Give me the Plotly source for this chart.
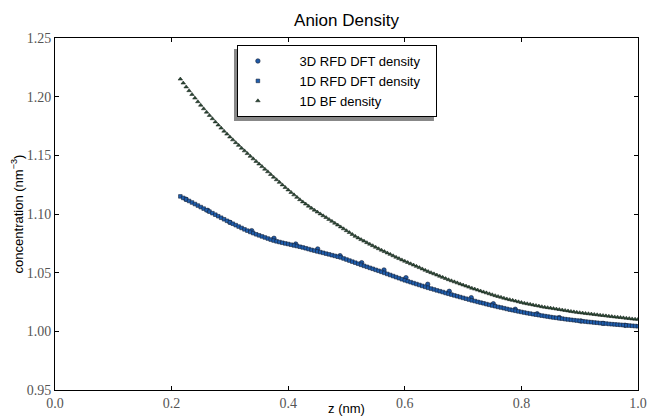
import numpy as np
import plotly.graph_objects as go

# ---- data ----
z_grid = np.round(np.linspace(0.215, 1.0, 158), 3)

rfd1d = [
    1.1150, 1.1137, 1.1124, 1.1111, 1.1098, 1.1085, 1.1072, 1.1059, 1.1046, 1.1033,
    1.1020, 1.1007, 1.0994, 1.0981, 1.0968, 1.0955, 1.0942, 1.0929, 1.0917, 1.0905,
    1.0893, 1.0881, 1.0869, 1.0858, 1.0847, 1.0837, 1.0827, 1.0818, 1.0809, 1.0800,
    1.0791, 1.0782, 1.0774, 1.0767, 1.0761, 1.0755, 1.0749, 1.0744, 1.0738, 1.0732,
    1.0727, 1.0721, 1.0715, 1.0708, 1.0701, 1.0694, 1.0688, 1.0681, 1.0675, 1.0669,
    1.0662, 1.0656, 1.0649, 1.0643, 1.0636, 1.0630, 1.0621, 1.0612, 1.0603, 1.0594,
    1.0585, 1.0576, 1.0567, 1.0558, 1.0550, 1.0541, 1.0533, 1.0524, 1.0516, 1.0507,
    1.0498, 1.0489, 1.0480, 1.0471, 1.0462, 1.0453, 1.0444, 1.0435, 1.0427, 1.0419,
    1.0411, 1.0403, 1.0395, 1.0387, 1.0379, 1.0371, 1.0364, 1.0357, 1.0349, 1.0342,
    1.0335, 1.0327, 1.0320, 1.0313, 1.0306, 1.0299, 1.0292, 1.0285, 1.0278, 1.0271,
    1.0264, 1.0258, 1.0251, 1.0245, 1.0239, 1.0232, 1.0226, 1.0220, 1.0214, 1.0208,
    1.0203, 1.0197, 1.0191, 1.0185, 1.0180, 1.0175, 1.0170, 1.0165, 1.0160, 1.0155,
    1.0151, 1.0146, 1.0142, 1.0138, 1.0134, 1.0130, 1.0126, 1.0122, 1.0118, 1.0115,
    1.0111, 1.0108, 1.0104, 1.0101, 1.0098, 1.0095, 1.0092, 1.0089, 1.0086, 1.0083,
    1.0080, 1.0078, 1.0075, 1.0073, 1.0070, 1.0068, 1.0066, 1.0063, 1.0061, 1.0059,
    1.0057, 1.0055, 1.0053, 1.0051, 1.0049, 1.0047, 1.0045, 1.0043,
]

bf1d = [
    1.2150, 1.2116, 1.2083, 1.2051, 1.2019, 1.1988, 1.1957, 1.1927, 1.1897, 1.1868,
    1.1840, 1.1812, 1.1785, 1.1758, 1.1732, 1.1706, 1.1681, 1.1656, 1.1632, 1.1608,
    1.1585, 1.1561, 1.1538, 1.1515, 1.1492, 1.1470, 1.1448, 1.1426, 1.1404, 1.1382,
    1.1360, 1.1337, 1.1314, 1.1292, 1.1270, 1.1248, 1.1226, 1.1205, 1.1184, 1.1163,
    1.1142, 1.1122, 1.1103, 1.1085, 1.1067, 1.1050, 1.1033, 1.1017, 1.1001, 1.0985,
    1.0970, 1.0954, 1.0938, 1.0922, 1.0906, 1.0890, 1.0874, 1.0858, 1.0842, 1.0826,
    1.0810, 1.0796, 1.0782, 1.0769, 1.0756, 1.0743, 1.0730, 1.0717, 1.0704, 1.0692,
    1.0680, 1.0668, 1.0656, 1.0644, 1.0632, 1.0620, 1.0609, 1.0598, 1.0587, 1.0576,
    1.0565, 1.0554, 1.0543, 1.0532, 1.0521, 1.0510, 1.0500, 1.0490, 1.0480, 1.0470,
    1.0460, 1.0450, 1.0440, 1.0431, 1.0422, 1.0413, 1.0404, 1.0395, 1.0386, 1.0377,
    1.0368, 1.0360, 1.0352, 1.0344, 1.0336, 1.0328, 1.0320, 1.0312, 1.0304, 1.0297,
    1.0290, 1.0283, 1.0276, 1.0270, 1.0264, 1.0258, 1.0252, 1.0246, 1.0240, 1.0235,
    1.0230, 1.0225, 1.0220, 1.0215, 1.0210, 1.0206, 1.0202, 1.0198, 1.0194, 1.0190,
    1.0186, 1.0182, 1.0178, 1.0174, 1.0170, 1.0166, 1.0162, 1.0159, 1.0156, 1.0153,
    1.0150, 1.0147, 1.0144, 1.0141, 1.0138, 1.0135, 1.0132, 1.0129, 1.0126, 1.0123,
    1.0121, 1.0118, 1.0115, 1.0112, 1.0109, 1.0106, 1.0104, 1.0102,
]

z3d = [0.2246, 0.2623, 0.3000, 0.3374, 0.3756, 0.4129, 0.4506, 0.4889, 0.5260,
       0.5643, 0.6020, 0.6393, 0.6763, 0.7140, 0.7518, 0.7895, 0.8270, 0.8650,
       0.9020, 0.9400, 0.9780]
rfd3d = [1.1126, 1.1030, 1.0929, 1.0858, 1.0793, 1.0744, 1.0702, 1.0645, 1.0585,
         1.0523, 1.0457, 1.0401, 1.0341, 1.0287, 1.0235, 1.0188, 1.0150, 1.0117,
         1.0088, 1.0068, 1.0051]

series_names = ["3D RFD DFT density", "1D RFD DFT density", "1D BF density"]
x_ticks = [0.0, 0.2, 0.4, 0.6, 0.8, 1.0]
y_ticks = [0.95, 1.00, 1.05, 1.10, 1.15, 1.20, 1.25]

lead = "\u00a0" * 6
tail = "\u00a0" * 3
fig = go.Figure()
fig.add_trace(go.Scatter(
    x=z3d, y=rfd3d, mode="markers", name=lead + series_names[0] + tail,
    marker=dict(symbol="circle", size=4.5, color="#1f5aa8",
                line=dict(color="#1a2438", width=0.6))))
fig.add_trace(go.Scatter(
    x=z_grid, y=rfd1d, mode="markers", name=lead + series_names[1] + tail,
    marker=dict(symbol="square", size=3.6, color="#1f5fb0",
                line=dict(color="#16233a", width=0.6))))
fig.add_trace(go.Scatter(
    x=z_grid, y=bf1d, mode="markers", name=lead + series_names[2],
    marker=dict(symbol="triangle-up", size=4, color="#2c4a36",
                line=dict(color="#111a14", width=0.5))))

tickfont = dict(family="Liberation Serif", size=14, color="#555555")
axis_common = dict(showline=True, linecolor="black", linewidth=1, mirror="allticks",
                   ticks="inside", ticklen=4, tickcolor="black", showgrid=False,
                   zeroline=False, tickfont=tickfont, automargin=False)

fig.update_layout(
    width=649, height=416,
    margin=dict(l=55, r=11, t=38, b=26),
    paper_bgcolor="white", plot_bgcolor="white",
    title=dict(text="Anion Density", x=0.5, xref="paper", y=1 - 20 / 416,
               yref="container", yanchor="middle", xanchor="center",
               font=dict(family="Liberation Sans", size=17, color="black")),
    xaxis=dict(range=[0.0, 1.0], tickvals=x_ticks,
               ticktext=[f"{v:.1f}" for v in x_ticks],
               title=dict(text="z (nm)", standoff=0,
                          font=dict(family="Liberation Sans", size=13, color="black")),
               **axis_common),
    yaxis=dict(range=[0.95, 1.25], tickvals=y_ticks,
               ticktext=[f"{v:.2f}" for v in y_ticks],
               title=dict(text="concentration (nm<sup>−3</sup>)", standoff=0,
                          font=dict(family="Liberation Sans", size=13, color="black")),
               **axis_common),
    legend=dict(x=0.312, y=0.98, xanchor="left", yanchor="top",
                bgcolor="white", bordercolor="black", borderwidth=1,
                font=dict(family="Liberation Sans", size=13, color="black"),
                tracegroupgap=0, itemsizing="trace"),
    showlegend=True,
)

# legend drop-shadow
fig.add_shape(type="rect", xref="paper", yref="paper",
              x0=0.307, x1=0.650, y0=0.764, y1=0.969,
              fillcolor="#888888", line=dict(width=0), layer="above")

fig.write_html("out.html", config={"displayModeBar": False},
               post_script=["document.body.style.margin='0px';"])
